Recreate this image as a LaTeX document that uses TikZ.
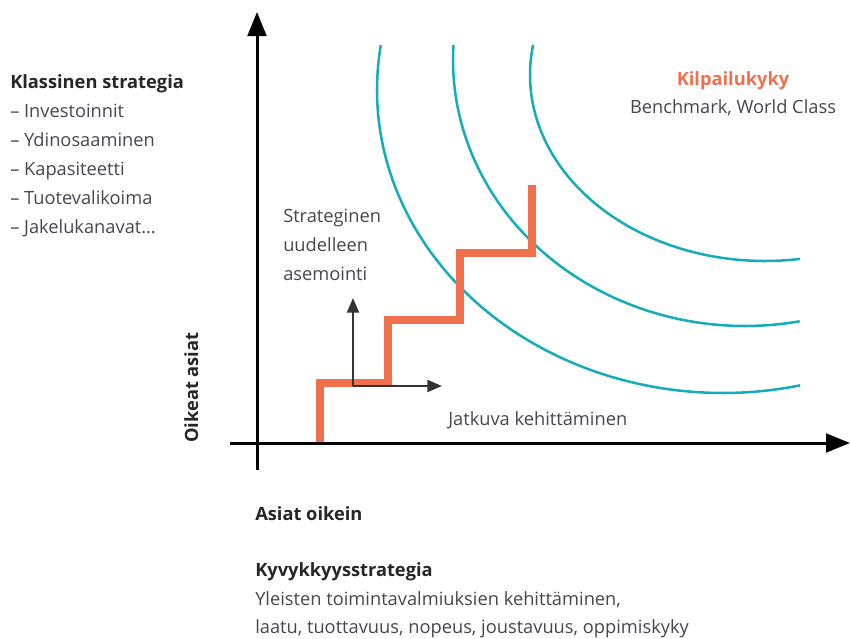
\documentclass[tikz,border=0pt]{standalone}
\usepackage{fontspec}
\setmainfont{Open Sans}
\usepackage{tikz}
\usetikzlibrary{arrows.meta,positioning}
\definecolor{stairorange}{RGB}{240,112,78}
\definecolor{ringteal}{RGB}{22,172,186}
\definecolor{txtgray}{RGB}{70,70,80}
\tikzstyle{every node}=[font=\fontsize{13.7}{16}\selectfont,text=txtgray,inner sep=0pt]
\tikzstyle{head}=[font=\fontsize{13.7}{16}\selectfont\bfseries,text=black!85]
\tikzstyle{axis}=[line width=2.25pt,-{Triangle[length=18pt,width=14pt]}]
\tikzstyle{ring}=[line width=1.9pt,color=ringteal]
\tikzstyle{stair}=[line width=6pt,color=stairorange,line join=miter]
\tikzstyle{smallarrow}=[line width=1.4pt,color=black!80,-{Triangle[length=11pt,width=9pt]}]

\begin{document}
\begin{tikzpicture}[x=0.75pt,y=-0.75pt]
  \useasboundingbox (0,0) rectangle (850,639);
  % rings
  \foreach \cx/\cy/\ra/\rb/\sa/\ea in {723/90/346/303/188.5/77.1,
      745/60/292/266/183.2/79.2, 765/75/235/186/189.3/81.4}
   {
    \draw[ring,domain=\ea:\sa,samples=80,smooth]
    plot ({\cx+\ra*cos(\x)},{\cy+\rb*sin(\x)})
    ;
   }
  % stairs
  \draw[stair] (320,443) |- (388,383) |- (460,320) |- (532,253) -- (532,185);
  % small arrows
  \coordinate (pivot) at (353,386);
  \coordinate (pivotup) at (353,298);
  \coordinate (pivotright) at (442,386);
  \draw[smallarrow] (pivot) -- (pivotup);
  \draw[smallarrow] (pivot) -- (pivotright);
  % axes
  \coordinate (ybot) at (257,470);
  \coordinate (ytop) at (257,12);
  \coordinate (xleft) at (230,443);
  \coordinate (xright) at (850,443);
  \draw[axis] (ybot) -- (ytop);
  \draw[axis] (xleft) -- (xright);

  % left column
  \node[head,anchor=base west] (classic) at (10,88) {Klassinen strategia};
  \foreach \item [count=\i] in {Investoinnit,Ydinosaaminen,Kapasiteetti,Tuotevalikoima,Jakelukanavat…}
    \node[anchor=base west] (classic\i) at (10,{88+29*\i}) {– \item};

  % top right
  \node[head,text=stairorange,anchor=base] (compet) at (733,85) {Kilpailukyky};
  \node[anchor=base] (bench) at (733,113) {Benchmark, World Class};

  % inside the axes
  \foreach \word [count=\i] in {Strateginen,uudelleen,asemointi}
    \node[anchor=base west] (repos\i) at (283,{193+29*\i}) {\word};
  \node[anchor=base west] (contin) at (448,425) {Jatkuva kehittäminen};
  \node[head,rotate=90,anchor=base west] (yname) at (198,443) {Oikeat asiat};

  % below
  \node[head,anchor=base west] (xname) at (255,520) {Asiat oikein};
  \node[head,anchor=base west] (capab) at (255,576) {Kyvykkyysstrategia};
  \node[anchor=base west] (capab1) at (255,605) {Yleisten toimintavalmiuksien kehittäminen,};
  \node[anchor=base west] (capab2) at (255,633) {laatu, tuottavuus, nopeus, joustavuus, oppimiskyky};
\end{tikzpicture}
\end{document}
